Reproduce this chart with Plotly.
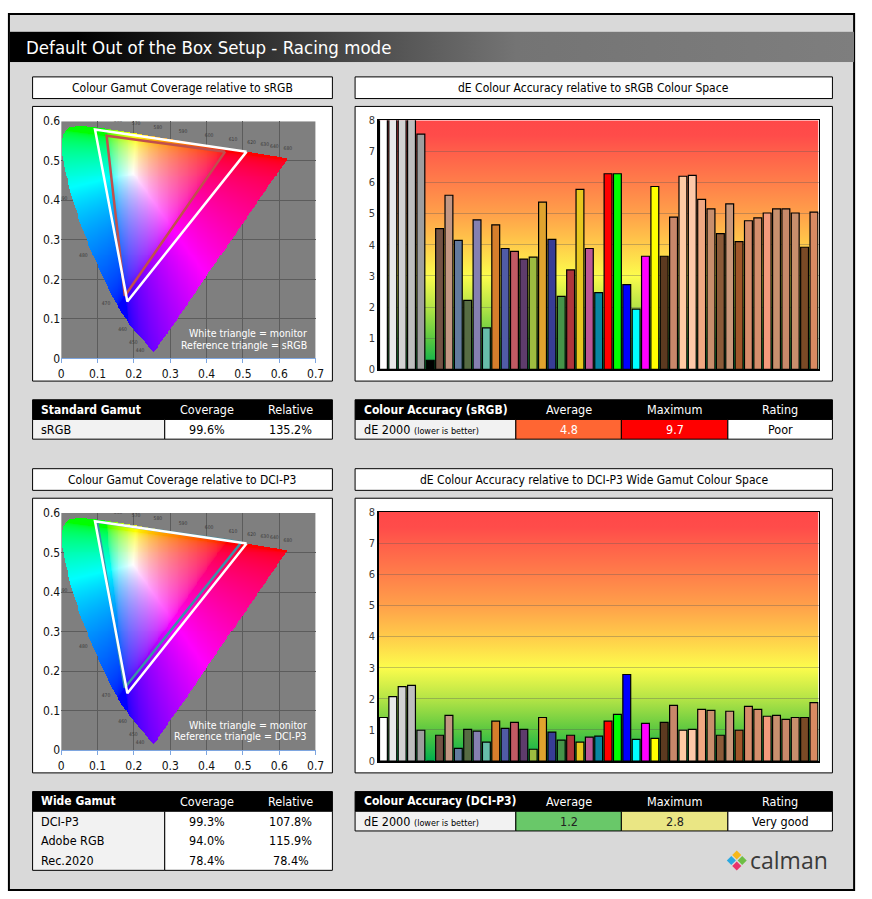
import base64
import struct
import zlib

import numpy as np
import plotly.graph_objects as go

# ---------------- data ----------------
patch_colours = [
    "#FFFFFF", "#E8E8E8", "#D2D2D2", "#BEBEBE", "#9E9E9E", "#000000",
    "#735244", "#C29682", "#627A9D", "#576C43", "#8580B1", "#67BDAA",
    "#D67E2C", "#505BA6", "#C15A63", "#5E3C6C", "#9DBC40", "#E0A32E",
    "#383D96", "#469449", "#AF363C", "#E7C71F", "#BB5695", "#0885A1",
    "#FF0000", "#00FF00", "#0000FF", "#00FFFF", "#FF00FF", "#FFFF00",
    "#5C3A20", "#C8876A", "#FFCBA4", "#FDC8A8", "#F0A882", "#C88E6C",
    "#8B5A38", "#C9977A", "#A0562A", "#D68C6B", "#D48E6C", "#F49A7C",
    "#C8906E", "#C8896A", "#C88F6C", "#7A4A26", "#D98A62",
]
patch_index = list(range(1, len(patch_colours) + 1))

srgb_de = [
    8.6, 9.1, 9.7, 8.3, 7.55, 0.29, 4.52, 5.59, 4.14, 2.21, 4.80, 1.33,
    4.64, 3.88, 3.79, 3.54, 3.60, 5.37, 4.17, 2.34, 3.19, 5.78, 3.88, 2.46,
    6.28, 6.28, 2.72, 1.93, 3.63, 5.87, 3.63, 4.89, 6.20, 6.23, 5.46, 5.15,
    4.36, 5.31, 4.10, 4.77, 4.86, 5.02, 5.15, 5.15, 5.02, 3.92, 5.05,
]
dci_de = [
    1.40, 2.07, 2.39, 2.43, 0.99, 0.0, 0.83, 1.47, 0.41, 1.02, 0.96, 0.61,
    1.28, 1.05, 1.24, 1.02, 0.38, 1.40, 0.93, 0.67, 0.83, 0.61, 0.77, 0.80,
    1.28, 1.50, 2.78, 0.70, 1.21, 0.73, 1.24, 1.79, 0.99, 1.02, 1.66, 1.63,
    0.83, 1.60, 0.99, 1.76, 1.66, 1.44, 1.47, 1.34, 1.40, 1.40, 1.88,
]

# CIE 1976 u'v' primaries (R, G, B)
monitor_u = [0.510, 0.093, 0.182]
monitor_v = [0.523, 0.579, 0.144]
srgb_u = [0.451, 0.125, 0.175]
srgb_v = [0.523, 0.563, 0.158]
dcip3_u = [0.496, 0.099, 0.175]
dcip3_v = [0.526, 0.578, 0.158]

# CIE 1931 spectral locus (x, y), 380-700 nm in 5 nm steps
locus_nm = list(range(380, 705, 5))
locus_x = [
    0.1741, 0.1740, 0.1738, 0.1736, 0.1733, 0.1730, 0.1726, 0.1721, 0.1714,
    0.1703, 0.1689, 0.1669, 0.1644, 0.1611, 0.1566, 0.1510, 0.1440, 0.1355,
    0.1241, 0.1096, 0.0913, 0.0687, 0.0454, 0.0235, 0.0082, 0.0039, 0.0139,
    0.0389, 0.0743, 0.1142, 0.1547, 0.1929, 0.2296, 0.2658, 0.3016, 0.3373,
    0.3731, 0.4087, 0.4441, 0.4788, 0.5125, 0.5448, 0.5752, 0.6029, 0.6270,
    0.6482, 0.6658, 0.6801, 0.6915, 0.7006, 0.7079, 0.7140, 0.7190, 0.7230,
    0.7260, 0.7283, 0.7300, 0.7311, 0.7320, 0.7327, 0.7334, 0.7340, 0.7344,
    0.7346, 0.7347,
]
locus_y = [
    0.0050, 0.0050, 0.0049, 0.0049, 0.0048, 0.0048, 0.0048, 0.0048, 0.0051,
    0.0058, 0.0069, 0.0086, 0.0109, 0.0138, 0.0177, 0.0227, 0.0297, 0.0399,
    0.0578, 0.0868, 0.1327, 0.2007, 0.2950, 0.4127, 0.5384, 0.6548, 0.7502,
    0.8120, 0.8338, 0.8262, 0.8059, 0.7816, 0.7543, 0.7243, 0.6923, 0.6589,
    0.6245, 0.5896, 0.5547, 0.5202, 0.4866, 0.4544, 0.4242, 0.3965, 0.3725,
    0.3514, 0.3340, 0.3197, 0.3083, 0.2993, 0.2920, 0.2859, 0.2809, 0.2770,
    0.2740, 0.2717, 0.2700, 0.2689, 0.2680, 0.2673, 0.2666, 0.2660, 0.2656,
    0.2654, 0.2653,
]
wavelength_labels = [440, 450, 460, 470, 480, 490,
                     560, 570, 580, 590, 600, 610, 620, 630, 640, 680]

std_names = ["sRGB"]
std_coverage = ["99.6%"]
std_relative = ["135.2%"]
wide_names = ["DCI-P3", "Adobe RGB", "Rec.2020"]
wide_coverage = ["99.3%", "94.0%", "78.4%"]
wide_relative = ["107.8%", "115.9%", "78.4%"]
srgb_rating = "Poor"
dci_rating = "Very good"

# ---------------- helpers ----------------
W, H = 872, 899
FONT = "DejaVu Sans Condensed, DejaVu Sans, sans-serif"
STEP = 0.0025

shapes = []
annotations = []
images = []


def px(x):
    return x / W


def py(y):
    return 1 - y / H


def rect(x0, y0, x1, y1, fill, line_color="black", line_width=1):
    shapes.append(dict(
        type="rect", xref="paper", yref="paper", layer="below",
        x0=px(x0), x1=px(x1), y0=py(y1), y1=py(y0),
        fillcolor=fill, line=dict(color=line_color, width=line_width),
    ))


def label(x, y, text, size=12, color="black", anchor="center"):
    annotations.append(dict(
        xref="paper", yref="paper", x=px(x), y=py(y), text=text,
        showarrow=False, xanchor=anchor, yanchor="middle",
        font=dict(family=FONT, size=size, color=color),
    ))


def png_uri(rgba):
    h, w, _ = rgba.shape
    raw = b"".join(b"\x00" + rgba[i].tobytes() for i in range(h))

    def chunk(tag, data):
        body = tag + data
        return struct.pack(">I", len(data)) + body + struct.pack(">I", zlib.crc32(body) & 0xFFFFFFFF)

    png = (b"\x89PNG\r\n\x1a\n"
           + chunk(b"IHDR", struct.pack(">IIBBBBB", w, h, 8, 6, 0, 0, 0))
           + chunk(b"IDAT", zlib.compress(raw, 9))
           + chunk(b"IEND", b""))
    return "data:image/png;base64," + base64.b64encode(png).decode()


def svg_uri(svg):
    return "data:image/svg+xml;base64," + base64.b64encode(svg.encode()).decode()


def gradient_svg(offsets, colours, vertical=True):
    stops = "".join(f"<stop offset='{o}' stop-color='{c}'/>" for o, c in zip(offsets, colours))
    x2, y2 = ("0", "1") if vertical else ("1", "0")
    return svg_uri(
        "<svg xmlns='http://www.w3.org/2000/svg' width='100' height='100' "
        "viewBox='0 0 100 100' preserveAspectRatio='none'><defs>"
        f"<linearGradient id='g' x1='0' y1='0' x2='{x2}' y2='{y2}'>{stops}</linearGradient>"
        "</defs><rect width='100' height='100' fill='url(#g)'/></svg>"
    )


def inside_polygon(px_, py_, poly_x, poly_y):
    res = np.zeros(px_.shape, dtype=bool)
    j = len(poly_x) - 1
    for i in range(len(poly_x)):
        xi, yi, xj, yj = poly_x[i], poly_y[i], poly_x[j], poly_y[j]
        cross = ((yi > py_) != (yj > py_)) & (px_ < (xj - xi) * (py_ - yi) / (yj - yi + 1e-12) + xi)
        res ^= cross
        j = i
    return res


# spectral locus in u'v'
lx = np.array(locus_x)
ly = np.array(locus_y)
den = -2 * lx + 12 * ly + 3
locus_u = 4 * lx / den
locus_v = 9 * ly / den

# colour-filled horseshoe
us = np.arange(0, 0.63, STEP) + STEP / 2
vs = np.arange(0, 0.6, STEP) + STEP / 2
U, V = np.meshgrid(us, vs)
d = 6 * U - 16 * V + 12
cx = 9 * U / d
cy = 4 * V / d
X = cx / cy
Z = (1 - cx - cy) / cy
r = 3.2406 * X - 1.5372 - 0.4986 * Z
g = -0.9689 * X + 1.8758 + 0.0415 * Z
b = 0.0557 * X - 0.2040 + 1.0570 * Z
rgb = np.clip(np.stack([r, g, b], axis=-1), 0, None)
rgb = rgb / (rgb.max(axis=-1, keepdims=True) + 1e-9)
rgb = rgb ** (1 / 2.2)
mask = inside_polygon(U, V, locus_u, locus_v)
rgba = np.zeros(U.shape + (4,), dtype=np.uint8)
rgba[..., :3] = (rgb * 255).astype(np.uint8)
rgba[..., 3] = np.where(mask, 255, 0)
horseshoe = png_uri(rgba)

# wavelength label positions just outside the locus
tu = np.gradient(locus_u)
tv = np.gradient(locus_v)
norm = np.hypot(tu, tv) + 1e-12
nu, nv = -tv / norm, tu / norm
lab_idx = [locus_nm.index(n) for n in wavelength_labels]
label_u = [locus_u[i] + 0.024 * nu[i] for i in lab_idx]
label_v = [locus_v[i] + 0.024 * nv[i] for i in lab_idx]

# ---------------- figure ----------------
fig = go.Figure()


def add_gamut(xa, ya, ref_u, ref_v, ref_colour):
    fig.add_trace(go.Image(source=horseshoe, x0=us[0], y0=vs[0], dx=STEP, dy=STEP,
                           xaxis=xa, yaxis=ya, hoverinfo="skip"))
    fig.add_trace(go.Scatter(x=label_u, y=label_v, mode="text",
                             text=[str(n) for n in wavelength_labels],
                             textfont=dict(family=FONT, size=5, color="#3A3A3A"),
                             xaxis=xa, yaxis=ya, hoverinfo="skip"))
    fig.add_trace(go.Scatter(x=ref_u + ref_u[:1], y=ref_v + ref_v[:1], mode="lines",
                             line=dict(color=ref_colour, width=2.5),
                             xaxis=xa, yaxis=ya, hoverinfo="skip"))
    fig.add_trace(go.Scatter(x=monitor_u + monitor_u[:1], y=monitor_v + monitor_v[:1],
                             mode="lines", line=dict(color="white", width=2.5),
                             xaxis=xa, yaxis=ya, hoverinfo="skip"))
    shapes.append(dict(type="rect", xref=xa, yref=ya, layer="below", x0=0, x1=0.7,
                       y0=0, y1=0.6, fillcolor="#7F7F7F", line=dict(width=0)))


def add_bars(xa, ya, values):
    fig.add_trace(go.Bar(x=patch_index, y=values, width=0.84,
                         marker=dict(color=patch_colours, line=dict(color="black", width=1.2)),
                         xaxis=xa, yaxis=ya, hoverinfo="skip"))


add_gamut("x", "y", srgb_u, srgb_v, "#C0504D")
add_bars("x2", "y2", srgb_de)
add_gamut("x3", "y3", dcip3_u, dcip3_v, "#3A93A8")
add_bars("x4", "y4", dci_de)

# page frame and title bar
rect(6, 7, 863, 897, "#D9D9D9", "black", 2)
images.append(dict(
    source=gradient_svg([0, 0.08, 0.6, 1], ["#000000", "#000000", "#747474", "#7E7E7E"], vertical=False),
    xref="paper", yref="paper", x=px(7), y=py(25), sizex=px(863) - px(7), sizey=31 / H,
    xanchor="left", yanchor="top", sizing="stretch", layer="above",
))
label(21, 41, "Default Out of the Box Setup - Racing mode", size=18.5, color="white", anchor="left")

bar_grad = gradient_svg(
    [0, 0.0625, 0.125, 0.25, 0.375, 0.5, 0.625, 0.75, 0.875, 1],
    ["#FF4848", "#FF4C4A", "#FF5E4A", "#FF7E4A", "#FFA04A", "#FFCB4A",
     "#FCFC4C", "#B4E446", "#5CC840", "#00AE4E"],
)

headers = [
    ("Colour Gamut Coverage relative to sRGB", "dE Colour Accuracy relative to sRGB Colour Space"),
    ("Colour Gamut Coverage relative to DCI-P3", "dE Colour Accuracy relative to DCI-P3 Wide Gamut Colour Space"),
]
for k, (left_title, right_title) in enumerate(headers):
    o = 398 * k
    rect(30, 71 + o, 334, 93 + o, "white")
    rect(30, 101 + o, 334, 380 + o, "white")
    rect(357, 71 + o, 841, 93 + o, "white")
    rect(357, 101 + o, 841, 380 + o, "white")
    label(182, 82 + o, left_title, size=12)
    label(599, 82 + o, right_title, size=12)
    ref_name = "sRGB" if k == 0 else "DCI-P3"
    label(310, 331 + o, "White triangle = monitor", size=10.5, color="white", anchor="right")
    label(310, 343 + o, f"Reference triangle = {ref_name}", size=10.5, color="white", anchor="right")
    images.append(dict(source=bar_grad, xref=f"x{2 * k + 2}", yref=f"y{2 * k + 2}",
                       x=0.5, y=8, sizex=len(patch_index), sizey=8, xanchor="left",
                       yanchor="top", sizing="stretch", layer="below"))


def gamut_table(top, title, names, coverage, relative):
    bottom = top + 20 + 20 * len(names)
    rect(30, top, 334, top + 20, "black")
    rect(30, top + 20, 164, bottom, "#F2F2F2")
    rect(164, top + 20, 334, bottom, "white")
    label(37, top + 10, f"<b>{title}</b>", size=12, color="white", anchor="left")
    label(207, top + 10, "Coverage", size=12.5, color="white")
    label(292, top + 10, "Relative", size=12.5, color="white")
    for i, (n, c, rl) in enumerate(zip(names, coverage, relative)):
        yc = top + 30 + 20 * i
        label(37, yc, n, size=12.5, anchor="left")
        label(207, yc, c, size=12.5)
        label(292, yc, rl, size=12.5)


def accuracy_table(top, title, values, rating, avg_fill, max_fill, value_colour):
    avg = f"{np.mean(values):.1f}"
    mx = f"{np.max(values):.1f}"
    rect(357, top, 841, top + 20, "black")
    cells = [(357, 520, "#F2F2F2"), (520, 627, avg_fill), (627, 735, max_fill), (735, 841, "white")]
    for x0, x1, fill in cells:
        rect(x0, top + 20, x1, top + 40, fill)
    label(364, top + 10, f"<b>{title}</b>", size=12, color="white", anchor="left")
    for (x0, x1, _), head in zip(cells[1:], ["Average", "Maximum", "Rating"]):
        label((x0 + x1) / 2, top + 10, head, size=12.5, color="white")
    label(364, top + 30, "dE 2000 <span style='font-size:9px'>(lower is better)</span>",
          size=12.5, anchor="left")
    label(573.5, top + 30, avg, size=12.5, color=value_colour)
    label(681, top + 30, mx, size=12.5, color=value_colour)
    label(788, top + 30, rating, size=12.5)


gamut_table(399, "Standard Gamut", std_names, std_coverage, std_relative)
gamut_table(797, "Wide Gamut", wide_names, wide_coverage, wide_relative)
accuracy_table(399, "Colour Accuracy (sRGB)", srgb_de, srgb_rating, "#FF6633", "#FF0000", "white")
accuracy_table(797, "Colour Accuracy (DCI-P3)", dci_de, dci_rating, "#69C869", "#EAE684", "#222222")

# calman logo
for cx_, cy_, col in [(744, 861.5, "#F7B81B"), (738.5, 867, "#2BA8E0"),
                      (749.5, 867, "#6DBE45"), (744, 872.5, "#E8336A")]:
    s = 4.6
    path = (f"M {px(cx_)} {py(cy_ - s)} L {px(cx_ + s)} {py(cy_)} "
            f"L {px(cx_)} {py(cy_ + s)} L {px(cx_ - s)} {py(cy_)} Z")
    shapes.append(dict(type="path", xref="paper", yref="paper", path=path,
                       fillcolor=col, line=dict(width=0), layer="above"))
annotations.append(dict(xref="paper", yref="paper", x=px(755), y=py(866), text="calman",
                        showarrow=False, xanchor="left", yanchor="middle",
                        font=dict(family="Open Sans, sans-serif", size=23, color="#3A3A3A")))

tick_font = dict(family=FONT, size=12, color="#111111")
gamut_x = dict(range=[0, 0.7], dtick=0.1, showgrid=True, gridcolor="#5C5C5C", zeroline=False,
               showline=True, linecolor="#7EA6E0", ticks="outside", ticklen=4,
               tickcolor="#7EA6E0", tickfont=tick_font, fixedrange=True)
gamut_y = dict(range=[0, 0.6], dtick=0.1, showgrid=True, gridcolor="#5C5C5C", zeroline=False,
               showline=False, ticks="", tickfont=tick_font, scaleanchor=False, fixedrange=True)
bar_x = dict(range=[0.5, len(patch_index) + 0.5], showticklabels=False, showgrid=False,
             zeroline=False, showline=True, linecolor="black", linewidth=1.5, mirror=True,
             ticks="", fixedrange=True)
bar_y = dict(range=[0, 8], dtick=1, showgrid=True, gridcolor="rgba(90,90,90,0.35)",
             zeroline=False, showline=True, linecolor="black", linewidth=1.5, mirror=True,
             ticks="", tickfont=dict(family=FONT, size=11, color="#3A3A3A"), fixedrange=True)

fig.update_layout(
    margin=dict(l=0, r=0, t=0, b=0),
    paper_bgcolor="white", plot_bgcolor="rgba(0,0,0,0)",
    showlegend=False, bargap=0.16,
    xaxis=dict(gamut_x, domain=[px(59), px(317)], anchor="y"),
    yaxis=dict(gamut_y, domain=[py(357), py(116)], anchor="x"),
    xaxis2=dict(bar_x, domain=[px(381), px(827)], anchor="y2"),
    yaxis2=dict(bar_y, domain=[py(368), py(115)], anchor="x2"),
    xaxis3=dict(gamut_x, domain=[px(59), px(317)], anchor="y3"),
    yaxis3=dict(gamut_y, domain=[py(755), py(514)], anchor="x3"),
    xaxis4=dict(bar_x, domain=[px(381), px(827)], anchor="y4"),
    yaxis4=dict(bar_y, domain=[py(766), py(513)], anchor="x4"),
    shapes=shapes, annotations=annotations, images=images,
)

# pin the plot div to the window corner so the page is exactly 872x899
fig.write_html(
    "out.html",
    config={"displayModeBar": False, "staticPlot": True},
    default_width=f"{W}px; position:absolute; left:0; top:0",
    default_height=f"{H}px",
)
